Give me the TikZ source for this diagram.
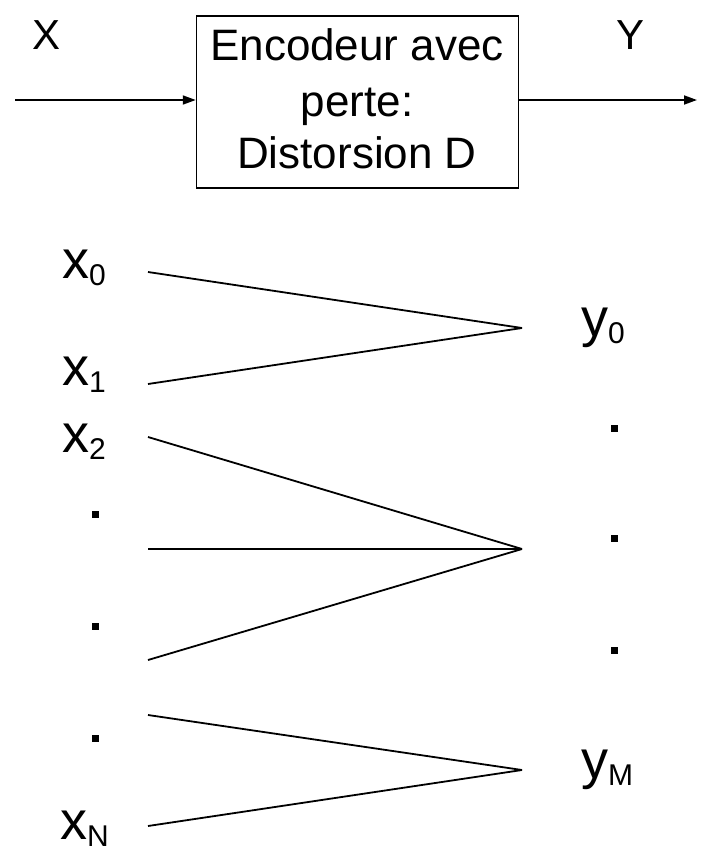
\documentclass[tikz,border=0pt]{standalone}
\usepackage{fontspec}
\setmainfont{Liberation Sans}
\usetikzlibrary{arrows.meta}
\newcommand{\lowsub}[1]{\raisebox{-7pt}{\fontsize{30}{32}\selectfont #1}}
\begin{document}
\begin{tikzpicture}[x=1pt,y=-1pt,
  boxtext/.style={font=\fontsize{44}{55}\selectfont, inner sep=0pt, anchor=base},
  biglab/.style={font=\fontsize{42}{50}\selectfont, inner sep=0pt},
  varlab/.style={font=\fontsize{54}{60}\selectfont, inner sep=0pt, anchor=base west},
  sq/.style={fill=black, inner sep=0pt, minimum size=7pt, draw=none},
  link/.style={line width=1.8pt},
  flow/.style={line width=1.8pt, -{Triangle[length=13pt,width=9pt]}}]
\useasboundingbox (0,0) rectangle (702,846);
% top block
\node[draw, line width=1.5pt, minimum width=322pt, minimum height=172pt, inner sep=0pt] (enc) at (357.5,102) {};
\node[boxtext] (t1) at (357,60) {Encodeur avec};
\node[boxtext] (t2) at (357,116) {perte:};
\node[boxtext] (t3) at (357,168) {Distorsion D};
\node[biglab] (X) at (47,35) {X};
\node[biglab] (Y) at (630,35) {Y};
\coordinate (in) at (15,100);
\coordinate (out) at (697,100);
\draw[flow] (in) -- (enc.west |- in);
\draw[flow] (enc.east |- out) -- (out);
% labels
\node[varlab] (x0) at (62,278) {x\lowsub{0}};
\node[varlab] (x1) at (62,385) {x\lowsub{1}};
\node[varlab] (x2) at (62,452) {x\lowsub{2}};
\node[varlab] (xN) at (60,839) {x\lowsub{N}};
\node[varlab] (y0) at (581,336) {y\lowsub{0}};
\node[varlab] (yM) at (581,778) {y\lowsub{M}};
\node[sq] (dl1) at (95,514) {};
\node[sq] (dl2) at (95,626) {};
\node[sq] (dl3) at (95,738) {};
\node[sq] (dr1) at (614,428) {};
\node[sq] (dr2) at (614,538) {};
\node[sq] (dr3) at (614,650) {};
% connection ends
\coordinate (a0) at (148,272);
\coordinate (a1) at (148,384);
\coordinate (a2) at (148,437);
\coordinate (a3) at (148,549);
\coordinate (a4) at (148,660);
\coordinate (a5) at (148,715);
\coordinate (a6) at (148,826);
\coordinate (c0) at (522,328);
\coordinate (c1) at (522,549);
\coordinate (c2) at (522,770);
\draw[link] (a0) -- (c0);
\draw[link] (a1) -- (c0);
\draw[link] (a2) -- (c1);
\draw[link] (a3) -- (c1);
\draw[link] (a4) -- (c1);
\draw[link] (a5) -- (c2);
\draw[link] (a6) -- (c2);
\end{tikzpicture}
\end{document}
